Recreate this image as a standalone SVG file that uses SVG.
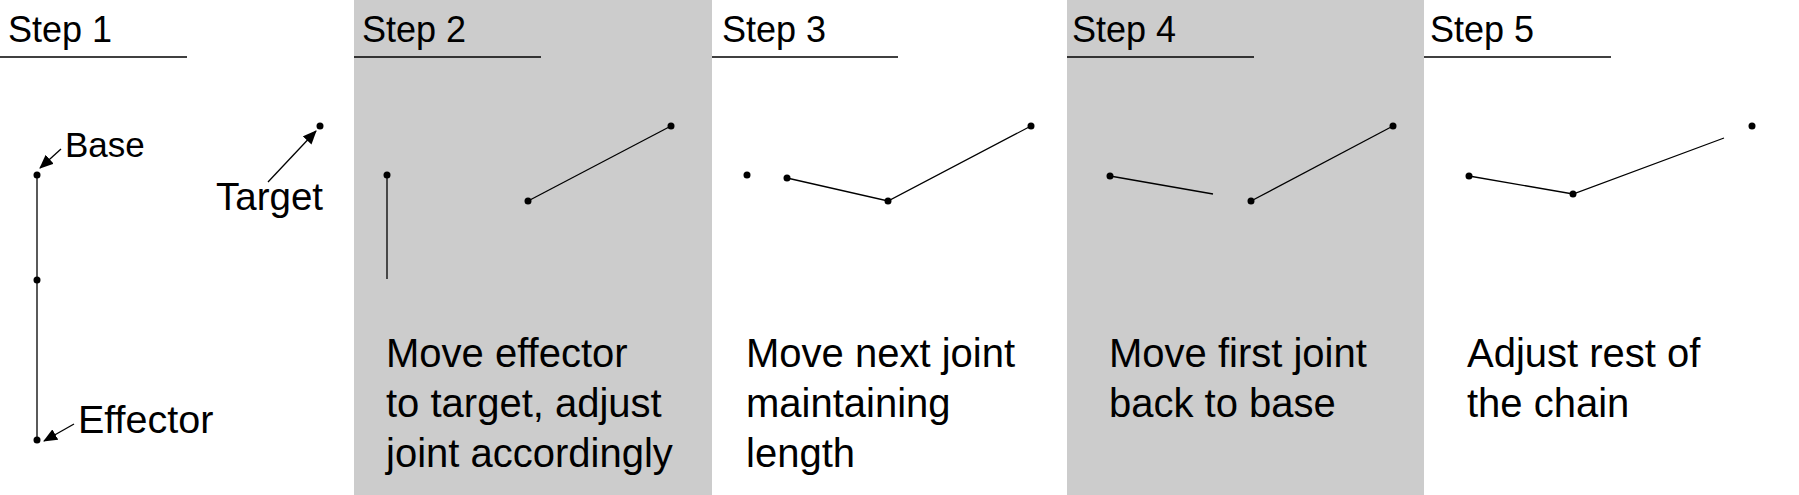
<svg xmlns="http://www.w3.org/2000/svg" width="1799" height="495" viewBox="0 0 1799 495">
<style>
  text { font-family: "Liberation Sans", Arial, sans-serif; fill: #000; }
  .hd { font-size: 36px; }
  .lbl { font-size: 36px; }
  .desc { font-size: 40px; }
  .rule { stroke: #000; stroke-width: 1.3; }
  .seg { stroke: #000; stroke-width: 1.3; fill: none; }
  .dot { fill: #000; }
  .panel { fill: #cccccc; }
</style>
<defs>
  <marker id="ah" markerUnits="userSpaceOnUse" markerWidth="14" markerHeight="12" refX="13" refY="6" orient="auto">
    <path d="M0,0 L14,6 L0,12 Z" fill="#000"/>
  </marker>
</defs>
<rect width="1799" height="495" fill="#fff"/>
<g id="panels">
  <rect class="panel" x="354" y="0" width="358" height="495"/>
  <rect class="panel" x="1067" y="0" width="357" height="495"/>
</g>
<g id="step1">
  <text class="hd" x="8" y="42">Step 1</text>
  <line class="rule" x1="0" y1="57" x2="187" y2="57"/>
  <line class="seg" x1="37" y1="175" x2="37" y2="440"/>
  <circle class="dot" cx="37" cy="175" r="3.5"/>
  <circle class="dot" cx="37" cy="280" r="3.5"/>
  <circle class="dot" cx="37" cy="440" r="3.5"/>
  <circle class="dot" cx="320" cy="126" r="3.5"/>
  <text class="lbl" x="65" y="157" style="font-size:35px">Base</text>
  <text class="lbl" x="216" y="210" style="font-size:38.5px">Target</text>
  <text class="lbl" x="78" y="433" style="font-size:39.5px">Effector</text>
</g>
<g id="step2">
  <text class="hd" x="362" y="42">Step 2</text>
  <line class="rule" x1="354" y1="57" x2="541" y2="57"/>
  <line class="seg" x1="387" y1="175" x2="387" y2="279"/>
  <circle class="dot" cx="387" cy="175" r="3.5"/>
  <line class="seg" x1="528" y1="201" x2="671" y2="126"/>
  <circle class="dot" cx="528" cy="201" r="3.5"/>
  <circle class="dot" cx="671" cy="126" r="3.5"/>
  <text class="desc" x="386" y="367">Move effector</text>
  <text class="desc" x="386" y="417">to target, adjust</text>
  <text class="desc" x="386" y="467">joint accordingly</text>
</g>
<g id="step3">
  <text class="hd" x="722" y="42">Step 3</text>
  <line class="rule" x1="712" y1="57" x2="898" y2="57"/>
  <circle class="dot" cx="747" cy="175" r="3.5"/>
  <polyline class="seg" points="787,178 888,201 1031,126"/>
  <circle class="dot" cx="787" cy="178" r="3.5"/>
  <circle class="dot" cx="888" cy="201" r="3.5"/>
  <circle class="dot" cx="1031" cy="126" r="3.5"/>
  <text class="desc" x="746" y="367">Move next joint</text>
  <text class="desc" x="746" y="417">maintaining</text>
  <text class="desc" x="746" y="467">length</text>
</g>
<g id="step4">
  <text class="hd" x="1072" y="42">Step 4</text>
  <line class="rule" x1="1067" y1="57" x2="1254" y2="57"/>
  <line class="seg" x1="1110" y1="176" x2="1213" y2="194"/>
  <circle class="dot" cx="1110" cy="176" r="3.5"/>
  <line class="seg" x1="1251" y1="201" x2="1393" y2="126"/>
  <circle class="dot" cx="1251" cy="201" r="3.5"/>
  <circle class="dot" cx="1393" cy="126" r="3.5"/>
  <text class="desc" x="1109" y="367">Move first joint</text>
  <text class="desc" x="1109" y="417">back to base</text>
</g>
<g id="step5">
  <text class="hd" x="1430" y="42">Step 5</text>
  <line class="rule" x1="1424" y1="57" x2="1611" y2="57"/>
  <polyline class="seg" points="1469,176 1573,194 1724,138"/>
  <circle class="dot" cx="1469" cy="176" r="3.5"/>
  <circle class="dot" cx="1573" cy="194" r="3.5"/>
  <circle class="dot" cx="1752" cy="126" r="3.5"/>
  <text class="desc" x="1467" y="367">Adjust rest of</text>
  <text class="desc" x="1467" y="417">the chain</text>
</g>
<g id="connectors">
  <line class="seg" x1="61" y1="149" x2="40" y2="168" marker-end="url(#ah)"/>
  <line class="seg" x1="268" y1="182" x2="316" y2="131" marker-end="url(#ah)"/>
  <line class="seg" x1="74" y1="424" x2="44" y2="441" marker-end="url(#ah)"/>
</g>
</svg>
